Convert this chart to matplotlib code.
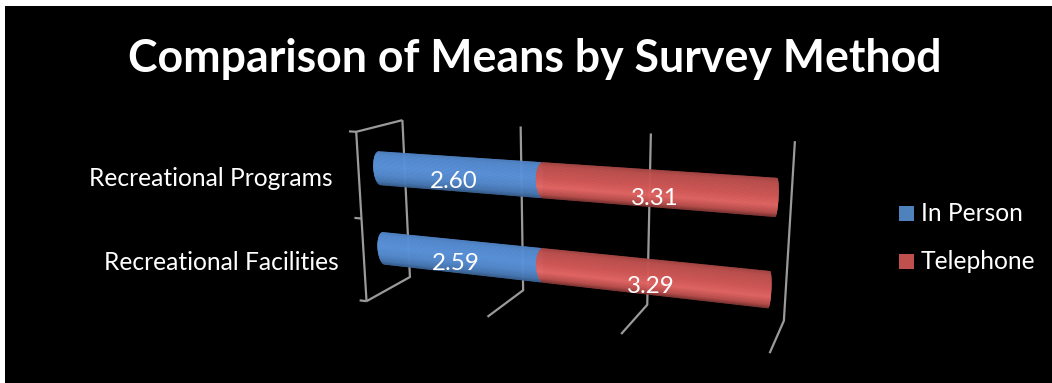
import numpy as np
import matplotlib
matplotlib.use("Agg")
import matplotlib.pyplot as plt
import matplotlib.transforms as mtransforms
from matplotlib.patches import Rectangle
from matplotlib.collections import PolyCollection

# Survey results
categories = ["Recreational Facilities", "Recreational Programs"]
series_names = ["In Person", "Telephone"]
in_person = [2.59, 2.60]
telephone = [3.29, 3.31]
value_ticks = [0, 2, 4, 6]

WIDTH, HEIGHT = 1052, 383

plt.rcParams['font.family'] = ['Lato', 'DejaVu Sans']


def fit_projection(world, pixels):
    # least squares projective fit, returns matrix with last entry 1
    world = np.asarray(world, float)
    pixels = np.asarray(pixels, float)
    n = world.shape[1]
    rows, rhs = [], []
    for w, p in zip(world, pixels):
        rows.append(list(w) + [1] + [0] * (n + 1) + list(-p[0] * w))
        rhs.append(p[0])
        rows.append([0] * (n + 1) + list(w) + [1] + list(-p[1] * w))
        rhs.append(p[1])
    sol = np.linalg.lstsq(np.array(rows), np.array(rhs), rcond=None)[0]
    return np.append(sol, 1).reshape(3, n + 1)


class Projective(mtransforms.Transform):
    input_dims = 2
    output_dims = 2

    def __init__(self, matrix):
        super().__init__()
        self.matrix = matrix

    def transform_non_affine(self, values):
        values = np.asarray(values, float)
        full = np.column_stack([values, np.ones(len(values))])
        out = full @ self.matrix.T
        return out[:, :2] / out[:, 2:]


# Camera fit for the bar plane: (value, category position) -> canvas
half = 0.205
bar_camera = fit_projection(
    [(0, 1 + half), (2.60, 1 + half), (5.91, 1 + half),
     (0, 1 - half), (2.60, 1 - half), (5.91, 1 - half),
     (0, half), (2.59, half), (5.88, half),
     (0, -half), (2.59, -half), (5.88, -half)],
    [(373, 151), (536, 163), (780, 178),
     (373, 184), (536, 197), (776, 216),
     (378, 232), (537, 249), (773, 272),
     (378, 264), (536, 280), (770, 309)])

# Camera fit for the chart walls: (value, depth, height) -> canvas
wall_camera = fit_projection(
    [(0, 1, 1), (2, 1, 1), (4, 1, 1), (6, 1, 1),
     (0, 1, 0), (2, 1, 0), (4, 1, 0), (6, 1, 0),
     (0, 0, 0), (2, 0, 0), (4, 0, 0), (6, 0, 0),
     (0, 0, 1)],
    [(402, 120), (521, 127), (652, 133), (794, 141),
     (410, 277), (523, 290), (647, 305), (784, 321),
     (367, 301), (487, 317), (621, 334), (770, 353),
     (356, 132)])


def wall_xy(points):
    full = np.column_stack([np.asarray(points, float), np.ones(len(points))])
    out = full @ wall_camera.T
    return out[:, 0] / out[:, 2], out[:, 1] / out[:, 2]


fig = plt.figure(figsize=(WIDTH / 100, HEIGHT / 100), dpi=100, facecolor="white")
ax = fig.add_axes([0, 0, 1, 1])
ax.set_xlim(0, WIDTH)
ax.set_ylim(HEIGHT, 0)
ax.axis("off")
ax.add_patch(Rectangle((5, 6), WIDTH - 5, HEIGHT - 6, facecolor="black", edgecolor="none", zorder=0))

# Gridlines and axis frame
grid_style = dict(color="#9a9a9a", lw=1.6, solid_capstyle="butt", zorder=1)
for v in value_ticks:
    x, y = wall_xy([(v, 1, 1), (v, 1, 0), (v, 0, 0)])
    ax.plot(x, y, **grid_style)
x, y = wall_xy([(0, 1, 1), (0, 0, 1), (0, 0, 0)])
ax.plot(x, y, **grid_style)
for h in [0, 0.5, 1]:
    x, y = wall_xy([(0, 0, h), (-0.12, 0, h)])
    ax.plot(x, y, **grid_style)

# Shading across each cylinder, top edge to bottom edge
shade_pos = [0.0, 0.12, 0.45, 0.7, 0.9, 1.0]
blue_shade = np.array([[0x4e, 0x80, 0xc0], [0x56, 0x8c, 0xd2], [0x5c, 0x94, 0xdc],
                       [0x56, 0x8c, 0xd0], [0x48, 0x78, 0xb4], [0x38, 0x60, 0x90]]) / 255
red_shade = np.array([[0xa4, 0x46, 0x44], [0xc0, 0x52, 0x50], [0xd4, 0x5a, 0x58],
                      [0xe6, 0x68, 0x66], [0xbc, 0x50, 0x4e], [0x80, 0x36, 0x34]]) / 255
bar_tf = Projective(bar_camera) + ax.transData


def draw_cylinder(start, end, centre, shade, zorder, cap=0.11):
    ts = np.linspace(-1, 1, 61)
    polys, colors = [], []
    for t0, t1 in zip(ts[:-1], ts[1:]):
        tm = (t0 + t1) / 2
        bulge = 1 - np.sqrt(1 - tm ** 2)
        v0 = start + cap * bulge
        v1 = end - 0.03 * bulge
        u0, u1 = centre - half * t0, centre - half * t1
        polys.append([(v0, u0), (v1, u0), (v1, u1), (v0, u1)])
        colors.append([np.interp((tm + 1) / 2, shade_pos, shade[:, i]) for i in range(3)])
    ax.add_collection(PolyCollection(polys, facecolors=colors, edgecolors=colors,
                                     linewidths=0.3, transform=bar_tf, zorder=zorder))


for i, name in enumerate(categories):
    total = in_person[i] + telephone[i]
    draw_cylinder(0, in_person[i] + 0.1, i, blue_shade, 2)
    draw_cylinder(in_person[i], total, i, red_shade, 3)
    # Data labels
    ax.text(in_person[i] * 0.5 + 0.02, i - 0.09, f"{in_person[i]:.2f}", transform=bar_tf,
            color="white", fontsize=17.4, ha="center", va="center", zorder=5)
    ax.text(in_person[i] + telephone[i] * 0.5 + 0.04, i - 0.11, f"{telephone[i]:.2f}", transform=bar_tf,
            color="white", fontsize=17.4, ha="center", va="center", zorder=5)
    # Category labels
    lx = 333 if i == 1 else 339
    ly = 178 if i == 1 else 262
    ax.text(lx, ly, name, color="white", fontsize=17.7, ha="right", va="center", zorder=5)

# Legend
legend_colors = ["#4f81bd", "#c0504d"]
for name, col, ly in zip(series_names, legend_colors, [213.5, 261.5]):
    ax.add_patch(Rectangle((899, ly - 7.5), 15, 15, facecolor=col, edgecolor="none"))
    ax.text(921, ly, name, color="white", fontsize=17.7, ha="left", va="center")

ax.text(535, 59, "Comparison of Means by Survey Method", color="white", fontsize=32.1,
        fontweight="bold", ha="center", va="center")

fig.savefig("out.png", dpi=100, facecolor="white")
